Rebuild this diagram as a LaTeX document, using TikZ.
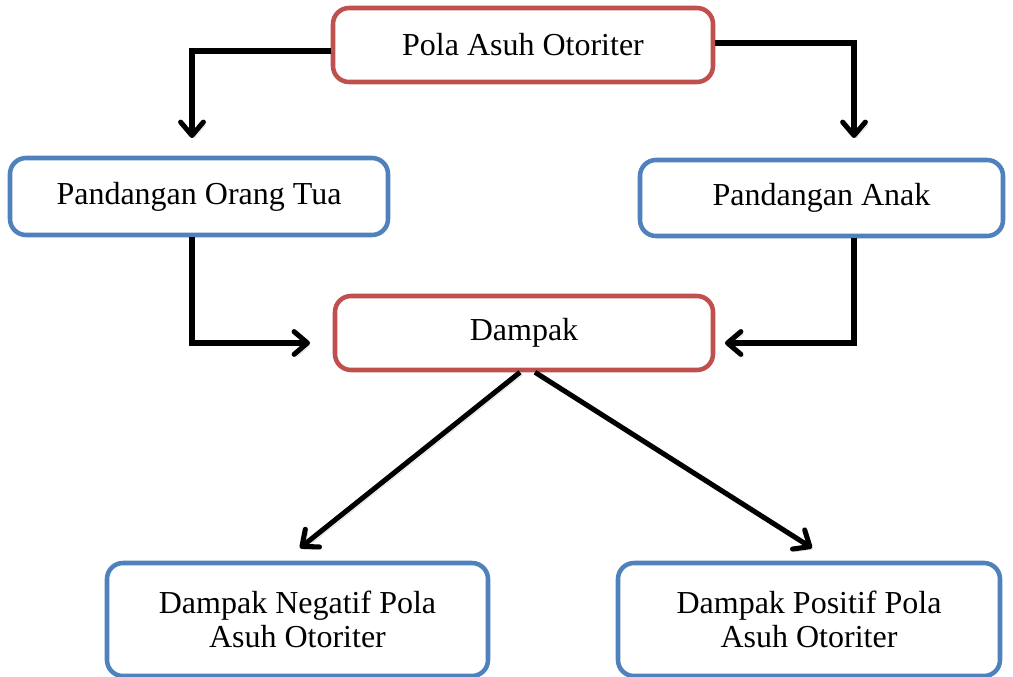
\documentclass[tikz,border=0pt]{standalone}
\usepackage{fontspec}
\setmainfont{Liberation Serif}
\usetikzlibrary{arrows.meta}
\definecolor{boxred}{HTML}{C0504D}
\definecolor{boxblue}{HTML}{4F81BD}
\begin{document}
\begin{tikzpicture}[x=0.75pt,y=-0.75pt,
  box/.style={draw, line width=3.4pt, rounded corners=12pt, fill=white, inner sep=0pt,
    align=center, font=\fontsize{24}{25.5}\selectfont},
  redbox/.style={box, draw=boxred},
  bluebox/.style={box, draw=boxblue},
  arr/.style={line width=3.8pt, black, line cap=butt, line join=miter,
    -{Straight Barb[length=10pt,width=17pt,line join=round,line cap=round]},
    preaction={draw=black, opacity=0.15, transform canvas={shift={(2pt,-2pt)}}}}]
\useasboundingbox (0,0) rectangle (1013,677);
\node[redbox, minimum width=285pt, minimum height=55.5pt] (top) at (523,45) {Pola Asuh Otoriter};
\node[bluebox, minimum width=283.5pt, minimum height=57.75pt] (ot) at (199,196.5) {Pandangan Orang Tua};
\node[bluebox, minimum width=272.25pt, minimum height=57pt] (pa) at (821.5,198) {Pandangan Anak};
\node[redbox, minimum width=283.5pt, minimum height=55.5pt] (dm) at (524,333) {Dampak};
\node[bluebox, minimum width=285.75pt, minimum height=84.75pt] (neg) at (297.5,619.5) {Dampak Negatif Pola\\Asuh Otoriter};
\node[bluebox, minimum width=286.5pt, minimum height=84.75pt] (pos) at (809,619.5) {Dampak Positif Pola\\Asuh Otoriter};
\coordinate (tipTL) at (192,138);
\coordinate (tipTR) at (854,138);
\coordinate (tipML) at (310,343);
\coordinate (tipMR) at (725,343);
\coordinate (tipBL) at (300,548);
\coordinate (tipBR) at (812,548);
\draw[arr] (top.west |- 0,51) -| (tipTL);
\draw[arr] (top.east |- 0,43) -| (tipTR);
\draw[arr] (ot.south -| tipTL) |- (tipML);
\draw[arr] (pa.south -| tipTR) |- (tipMR);
\draw[arr] (dm.south -| 520,0) -- (tipBL);
\draw[arr] (dm.south -| 535,0) -- (tipBR);
\end{tikzpicture}
\end{document}
